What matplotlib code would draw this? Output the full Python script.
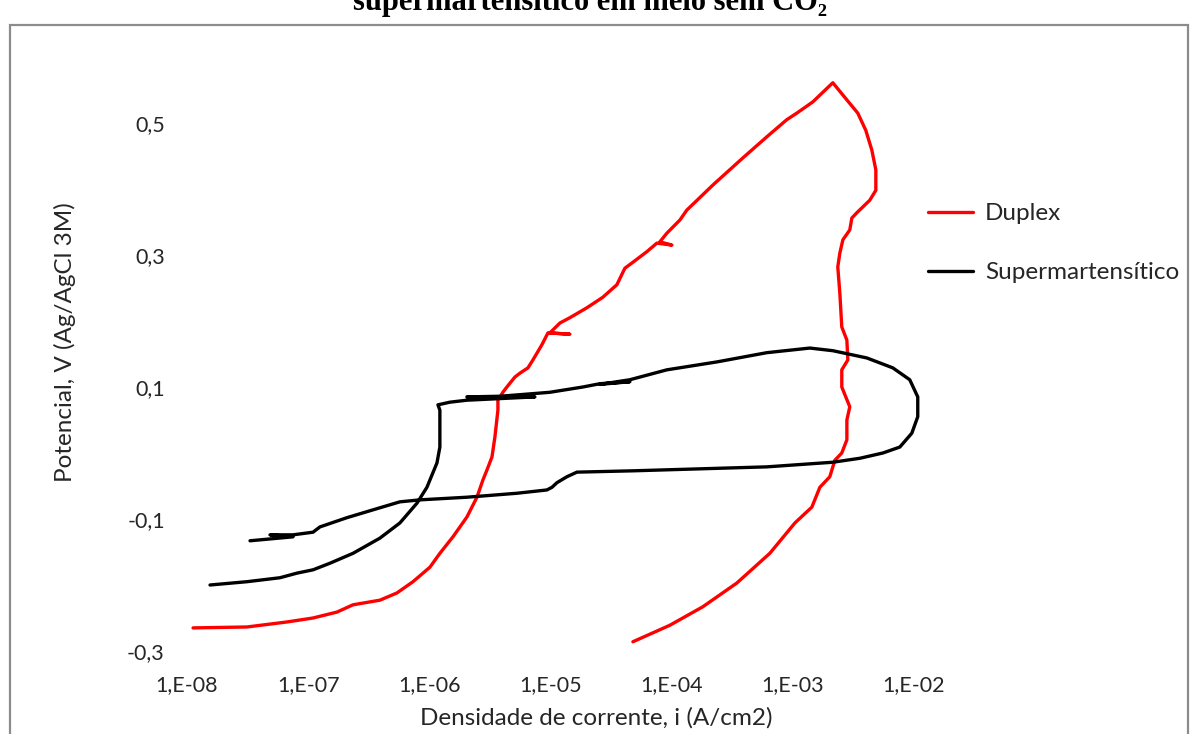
import matplotlib
matplotlib.use("Agg")
import matplotlib.pyplot as plt
from matplotlib.ticker import FixedLocator, FuncFormatter, NullLocator
from matplotlib.patches import Rectangle
import numpy as np

# ---- Data (log10 of current density in A/cm2, potential in V) ----
duplex_log_i = [-7.95, -7.505, -7.175, -6.96, -6.762, -6.63, -6.408, -6.267, -6.135, -5.995,
                -5.913, -5.805, -5.69, -5.607, -5.558, -5.525, -5.483, -5.459, -5.434, -5.434,
                -5.393, -5.36, -5.294, -5.252, -5.186, -5.145, -5.071, -5.021, -4.84, -5.005,
                -4.922, -4.84, -4.70, -4.568, -4.452, -4.386, -4.32, -4.205, -4.122, -3.998,
                -4.097, -4.04, -3.932, -3.875, -3.66, -3.413, -3.215, -3.05, -2.967, -2.835,
                -2.67, -2.554, -2.464, -2.398, -2.348, -2.315, -2.315, -2.365, -2.472, -2.513,
                -2.53, -2.587, -2.612, -2.629, -2.612, -2.596, -2.554, -2.546, -2.596, -2.596,
                -2.53, -2.554, -2.554, -2.596, -2.653, -2.695, -2.777, -2.843, -2.983, -3.19,
                -3.462, -3.743, -4.015, -4.32]
duplex_v = [-0.265, -0.2636, -0.256, -0.250, -0.241, -0.230, -0.223, -0.212, -0.195, -0.173,
            -0.152, -0.127, -0.097, -0.067, -0.041, -0.026, -0.006, 0.024, 0.065, 0.080,
            0.092, 0.100, 0.115, 0.121, 0.129, 0.141, 0.164, 0.182, 0.180, 0.182,
            0.197, 0.205, 0.220, 0.236, 0.255, 0.280, 0.289, 0.305, 0.318, 0.315,
            0.320, 0.333, 0.353, 0.368, 0.406, 0.447, 0.479, 0.505, 0.515, 0.532,
            0.561, 0.535, 0.515, 0.489, 0.459, 0.429, 0.398, 0.383, 0.364, 0.356,
            0.338, 0.323, 0.303, 0.282, 0.242, 0.191, 0.171, 0.141, 0.126, 0.100,
            0.070, 0.050, 0.020, 0.000, -0.011, -0.036, -0.052, -0.082, -0.106, -0.152,
            -0.197, -0.233, -0.261, -0.286]

super_log_i = [-7.81, -7.505, -7.233, -7.092, -6.96, -6.82, -6.63, -6.408, -6.243, -6.102,
               -6.02, -5.937, -5.913, -5.913, -5.913, -5.929, -5.83, -5.69, -5.129, -5.69,
               -5.417, -5.277, -5.005, -4.733, -4.592, -4.345, -4.592, -4.345, -4.04, -3.627,
               -3.215, -2.86, -2.67, -2.389, -2.175, -2.035, -1.969, -1.969, -2.018, -2.117,
               -2.257, -2.447, -2.67, -3.215, -3.767, -4.32, -4.782, -4.865, -4.947, -4.988,
               -5.03, -5.277, -5.69, -6.078, -6.243, -6.408, -6.68, -6.903, -6.96, -7.125,
               -7.315, -7.125, -7.48]
super_v = [-0.200, -0.195, -0.189, -0.182, -0.177, -0.167, -0.152, -0.129, -0.106, -0.076,
           -0.052, -0.015, 0.009, 0.039, 0.065, 0.073, 0.077, 0.080, 0.085, 0.085,
           0.086, 0.088, 0.092, 0.100, 0.105, 0.108, 0.104, 0.111, 0.126, 0.138,
           0.152, 0.159, 0.155, 0.144, 0.129, 0.111, 0.085, 0.055, 0.030, 0.009,
           0.000, -0.008, -0.014, -0.021, -0.024, -0.027, -0.029, -0.036, -0.045, -0.052,
           -0.056, -0.061, -0.067, -0.071, -0.074, -0.083, -0.098, -0.112, -0.120, -0.124,
           -0.124, -0.127, -0.133]

x_ticks = [1e-8, 1e-7, 1e-6, 1e-5, 1e-4, 1e-3, 1e-2]
x_ticklabels = ["1,E-08", "1,E-07", "1,E-06", "1,E-05", "1,E-04", "1,E-03", "1,E-02"]
y_ticks = [-0.3, -0.1, 0.1, 0.3, 0.5]
y_ticklabels = ["-0,3", "-0,1", "0,1", "0,3", "0,5"]

title_text = "supermartensítico em meio sem CO₂"
x_label = "Densidade de corrente, i (A/cm2)"
y_label = "Potencial, V (Ag/AgCl 3M)"
series_names = ["Duplex", "Supermartensítico"]

# ---- Figure ----
W, H = 1194, 734
fig = plt.figure(figsize=(W / 100, H / 100), dpi=100)
fig.patch.set_facecolor("white")

font = "Lato"
fs_tick = 15.5
fs_lab = 17.5

# outer chart frame
frame = Rectangle((10 / W, -0.02), (1188 - 10) / W, (1 - 25 / H) + 0.02,
                  transform=fig.transFigure, fill=False, edgecolor="#8c8c8c",
                  linewidth=1.6, zorder=0)
fig.patches.append(frame)

# clipped title at very top
fig.text(590 / W, 1 - 10 / H, title_text, ha="center", va="baseline",
         fontsize=22, fontweight="bold", family=["Liberation Serif", "DejaVu Serif"])

left, right = 187 / W, 914 / W
bottom, top = 1 - 651 / H, 1 - 57 / H
ax = fig.add_axes([left, bottom, right - left, top - bottom])
ax.set_xscale("log")
ax.set_xlim(1e-8, 1e-2)
ax.set_ylim(-0.3, 0.6)

l1, = ax.plot(10 ** np.array(duplex_log_i), duplex_v, color="#ff0000", lw=2.4,
              solid_joinstyle="round", solid_capstyle="round", clip_on=False)
l2, = ax.plot(10 ** np.array(super_log_i), super_v, color="#000000", lw=2.4,
              solid_joinstyle="round", solid_capstyle="round", clip_on=False)

for s in ax.spines.values():
    s.set_visible(False)
ax.xaxis.set_major_locator(FixedLocator(x_ticks))
ax.xaxis.set_minor_locator(NullLocator())
ax.xaxis.set_major_formatter(FuncFormatter(lambda v, p: x_ticklabels[int(round(np.log10(v))) + 8]))
ax.set_yticks(y_ticks)
ax.set_yticklabels(y_ticklabels)
ax.tick_params(axis="x", length=0, pad=17, labelsize=fs_tick, labelcolor="#262626")
ax.tick_params(axis="y", length=0, pad=16, labelsize=fs_tick, labelcolor="#262626")
for lab in ax.get_xticklabels() + ax.get_yticklabels():
    lab.set_family(font)
ax.patch.set_alpha(0)

fig.text(596 / W, 1 - 718 / H, x_label, ha="center", va="center",
         fontsize=fs_lab, family=font, color="#262626")
fig.text(65 / W, 1 - 342 / H, y_label, ha="center", va="center", rotation=90,
         fontsize=fs_lab, family=font, color="#262626")

leg = fig.legend([l1, l2], series_names, loc="upper left",
                 bbox_to_anchor=(928 / W, 1 - 203 / H), frameon=False,
                 borderpad=0, borderaxespad=0, handlelength=1.85,
                 handletextpad=0.5, labelspacing=1.57,
                 prop={"family": font, "size": fs_lab})
for t in leg.get_texts():
    t.set_color("#262626")

fig.savefig("out.png", dpi=100, facecolor="white")
